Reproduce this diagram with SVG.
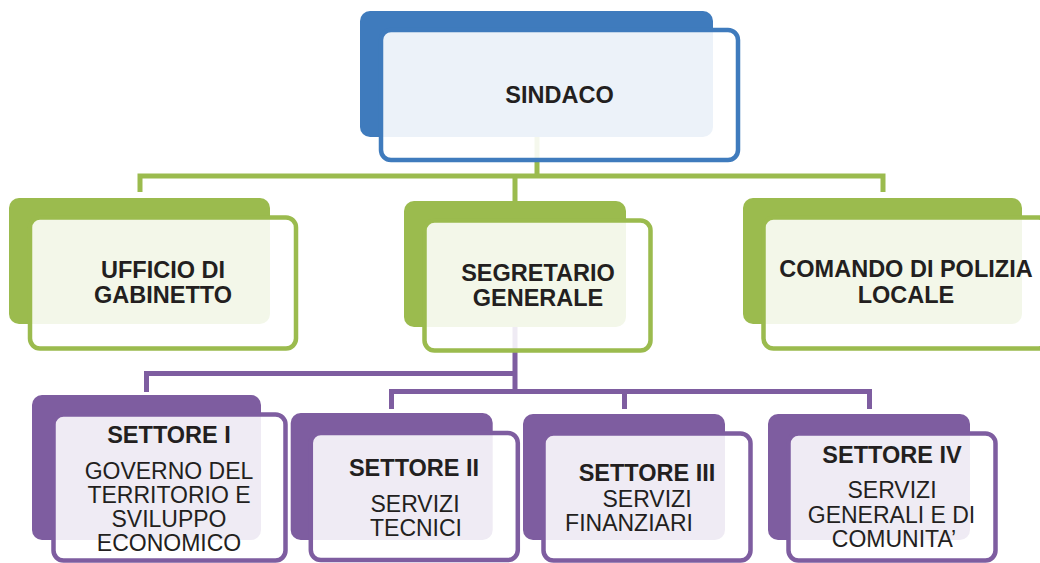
<svg xmlns="http://www.w3.org/2000/svg" width="1040" height="563" viewBox="0 0 1040 563">
<style>
.bg{fill:#ffffff}
.dkB{fill:#3F7BBD}.olB{fill:#ffffff;fill-opacity:0.9;stroke:#3F7BBD;stroke-width:4.5}
.dkG{fill:#9BBB4E}.olG{fill:#ffffff;fill-opacity:0.88;stroke:#9BBB4E;stroke-width:4.5}
.dkP{fill:#7E5DA0}.olP{fill:#ffffff;fill-opacity:0.88;stroke:#7E5DA0;stroke-width:4.5}
.cG{fill:none;stroke:#9BBB4E;stroke-width:5}
.cP{fill:none;stroke:#7E5DA0;stroke-width:5}
text{font-family:"Liberation Sans",Arial,sans-serif;font-size:23px;fill:#231F20;text-anchor:middle}
.b{font-weight:bold;font-size:23.5px}
</style>
<rect class="bg" x="0" y="0" width="1040" height="563"/>
<g id="connectors">
<path class="cG" d="M537 137 V178 M140 192 V176 H883 V192 M515 176 V201"/>
<path class="cP" d="M515 327 V373.5 H146.5 V392 M515 373.5 V391.5 M391.5 409 V391.5 H869.5 V409 M624.5 391.5 V409"/>
</g>
<g id="sindaco">
<rect class="dkB" x="360" y="11" width="353" height="126" rx="10"/>
<rect class="olB" x="381" y="30" width="357" height="130" rx="10"/>
<text class="b" x="559.5" y="103">SINDACO</text>
</g>
<g id="ufficio">
<rect class="dkG" x="9" y="198" width="261" height="126" rx="10"/>
<rect class="olG" x="30" y="217.5" width="266" height="131" rx="10"/>
<text class="b" x="163" y="278">UFFICIO DI</text>
<text class="b" x="163" y="303">GABINETTO</text>
</g>
<g id="segretario">
<rect class="dkG" x="404" y="201" width="222" height="126" rx="10"/>
<rect class="olG" x="424.5" y="220.5" width="226" height="130" rx="10"/>
<text class="b" x="538" y="281">SEGRETARIO</text>
<text class="b" x="538" y="306">GENERALE</text>
</g>
<g id="comando">
<rect class="dkG" x="743" y="198" width="279" height="126" rx="10"/>
<rect class="olG" x="763.5" y="217.5" width="285" height="131" rx="10"/>
<text class="b" x="906" y="277">COMANDO DI POLIZIA</text>
<text class="b" x="906" y="303">LOCALE</text>
</g>
<g id="settore1">
<rect class="dkP" x="32" y="395" width="229" height="145" rx="10"/>
<rect class="olP" x="53.5" y="414.5" width="232" height="146" rx="10"/>
<text class="b" x="169" y="443">SETTORE I</text>
<text x="169" y="479">GOVERNO DEL</text>
<text x="169" y="503">TERRITORIO E</text>
<text x="169" y="527">SVILUPPO</text>
<text x="169" y="551">ECONOMICO</text>
</g>
<g id="settore2">
<rect class="dkP" x="290.7" y="413" width="202" height="127" rx="10"/>
<rect class="olP" x="310.8" y="433" width="207" height="127" rx="10"/>
<text class="b" x="414" y="476">SETTORE II</text>
<text x="415" y="511.7">SERVIZI</text>
<text x="416" y="536">TECNICI</text>
</g>
<g id="settore3">
<rect class="dkP" x="523" y="414" width="202" height="126" rx="10"/>
<rect class="olP" x="543.5" y="433.5" width="207" height="127" rx="10"/>
<text class="b" x="647" y="480.7">SETTORE III</text>
<text x="647" y="506.7">SERVIZI</text>
<text x="629" y="530.7">FINANZIARI</text>
</g>
<g id="settore4">
<rect class="dkP" x="768" y="414" width="202" height="126" rx="10"/>
<rect class="olP" x="788.5" y="433.5" width="207" height="127" rx="10"/>
<text class="b" x="892" y="463.3">SETTORE IV</text>
<text x="892" y="498.3">SERVIZI</text>
<text x="891.5" y="523.3">GENERALI E DI</text>
<text x="894" y="547.3">COMUNITA’</text>
</g>
</svg>
